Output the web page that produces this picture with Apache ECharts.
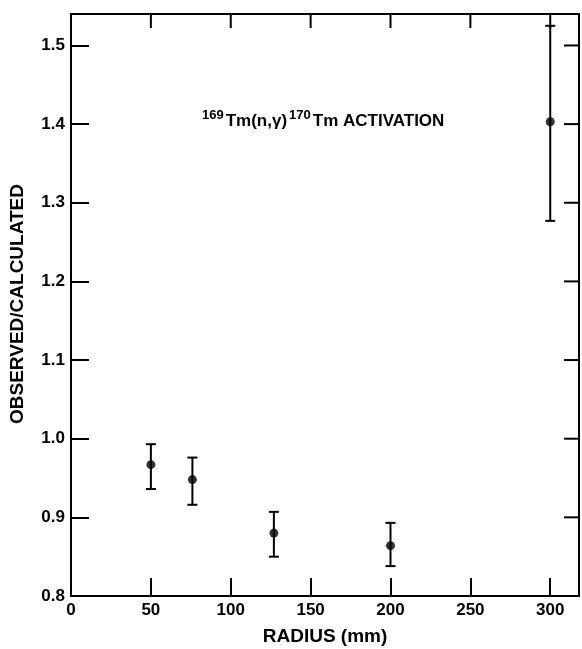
<!DOCTYPE html>
<html><head><meta charset="utf-8">
<script src="https://cdn.jsdelivr.net/npm/echarts@6/dist/echarts.min.js"></script>
<style>html,body{margin:0;padding:0;background:#fff}#c{width:582px;height:649px}</style>
</head><body><div id="c"></div>
<script>
const radius = [50, 76, 127, 200, 300];
const ratio = [0.967, 0.948, 0.880, 0.864, 1.403];
const errLow = [0.936, 0.916, 0.850, 0.838, 1.277];
const errHigh = [0.993, 0.976, 0.907, 0.893, 1.525];
const xTickLabels = ['0', '50', '100', '150', '200', '250', '300'];
const yTickLabels = ['0.8', '0.9', '1.0', '1.1', '1.2', '1.3', '1.4', '1.5'];
const topTicks = [50, 100, 150, 200, 250, 300];
const rightTicks = [0.9, 1.0, 1.1, 1.2, 1.3, 1.4, 1.5];

const FONT = 'Liberation Sans';
const chart = echarts.init(document.getElementById('c'));
const pts = radius.map((x, i) => [x, ratio[i]]);
const errs = radius.map((x, i) => [x, errLow[i], errHigh[i]]);
const lab = {fontFamily: FONT, fontWeight: 'bold', fontSize: 17, color: '#000'};
const line = {show: true, onZero: false, lineStyle: {color: '#000', width: 2}};
const XMIN = 0, XMAX = 318, YMIN = 0.8, YMAX = 1.54;

chart.setOption({
  animation: false,
  grid: {left: 71, right: 2, top: 14, bottom: 53, show: true, borderColor: '#000', borderWidth: 2, backgroundColor: 'transparent'},
  xAxis: {
    type: 'value', min: XMIN, max: XMAX, interval: 50,
    axisLine: line, splitLine: {show: false},
    axisTick: {inside: true, length: 18, lineStyle: {color: '#000', width: 2}},
    axisLabel: Object.assign({}, lab, {margin: 6, formatter: v => xTickLabels.includes(String(v)) ? String(v) : ''})
  },
  yAxis: {
    type: 'value', min: YMIN, max: YMAX, interval: 0.1,
    axisLine: line, splitLine: {show: false},
    axisTick: {inside: true, length: 18, lineStyle: {color: '#000', width: 2}},
    axisLabel: Object.assign({}, lab, {margin: 6, formatter: v => {
      const s = v.toFixed(1); return yTickLabels.includes(s) && Math.abs(v - parseFloat(s)) < 1e-6 ? s : '';
    }})
  },
  series: [{
    type: 'custom',
    data: errs,
    renderItem: (params, api) => {
      const x = api.value(0);
      const lo = api.coord([x, api.value(1)]);
      const hi = api.coord([x, api.value(2)]);
      const w = 5;
      const st = {stroke: '#000', lineWidth: 2};
      return {type: 'group', children: [
        {type: 'line', shape: {x1: lo[0], y1: lo[1], x2: hi[0], y2: hi[1]}, style: st},
        {type: 'line', shape: {x1: lo[0] - w, y1: lo[1], x2: lo[0] + w, y2: lo[1]}, style: st},
        {type: 'line', shape: {x1: hi[0] - w, y1: hi[1], x2: hi[0] + w, y2: hi[1]}, style: st}
      ]};
    },
    z: 2
  }, {
    type: 'custom',
    data: topTicks.map(v => [v]),
    renderItem: (params, api) => {
      const p = api.coord([api.value(0), YMAX]);
      return {type: 'line', shape: {x1: p[0], y1: p[1], x2: p[0], y2: p[1] + 14}, style: {stroke: '#000', lineWidth: 2}};
    }
  }, {
    type: 'custom',
    data: rightTicks.map(v => [XMAX, v]),
    renderItem: (params, api) => {
      const p = api.coord([api.value(0), api.value(1)]);
      return {type: 'line', shape: {x1: p[0], y1: p[1], x2: p[0] - 15, y2: p[1]}, style: {stroke: '#000', lineWidth: 2}};
    }
  }, {
    type: 'scatter', data: pts, symbol: 'circle', symbolSize: 9,
    itemStyle: {color: '#000'}, z: 3
  }],
  graphic: [{
    type: 'text', x: 325, y: 637,
    style: {text: 'RADIUS (mm)', fontFamily: FONT, fontWeight: 'bold', fontSize: 19, fill: '#000',
      align: 'center', verticalAlign: 'middle'}
  }, {
    type: 'text', x: 18, y: 304, rotation: Math.PI / 2,
    style: {text: 'OBSERVED/CALCULATED', fontFamily: FONT, fontWeight: 'bold', fontSize: 19, fill: '#000',
      align: 'center', verticalAlign: 'middle'}
  }, {
    type: 'text', x: 202, y: 121,
    style: {
      text: '{s|169}{n|Tm(n,γ)}{s|170}{n|Tm ACTIVATION}',
      verticalAlign: 'middle',
      rich: {
        s: {fontFamily: FONT, fontWeight: 'bold', fontSize: 13, fill: '#000', padding: [0, 2, 12, 0]},
        n: {fontFamily: FONT, fontWeight: 'bold', fontSize: 17, fill: '#000', padding: [0, 2, 0, 0]}
      }
    }
  }]
});
</script></body></html>
